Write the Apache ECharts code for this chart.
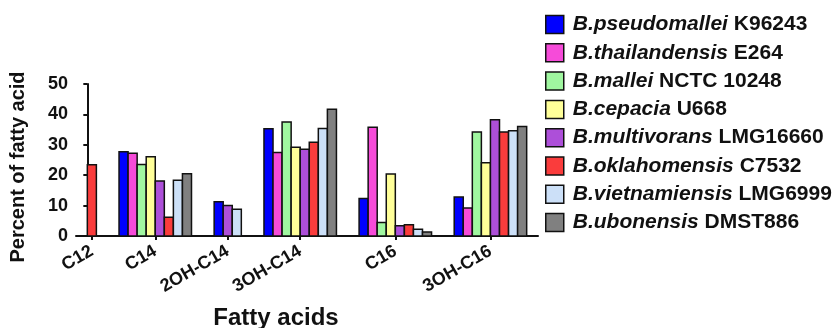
<!DOCTYPE html>
<html>
<head>
<meta charset="utf-8">
<script src="https://cdn.jsdelivr.net/npm/echarts@6/dist/echarts.min.js"></script>
<style>html,body{margin:0;padding:0;background:#fff}#c{width:839px;height:328px}</style>
</head>
<body>
<div id="c"></div>
<script>
// ---- data ----
const categories = ['C12', 'C14', '2OH-C14', '3OH-C14', 'C16', '3OH-C16'];
const species = ['B.pseudomallei', 'B.thailandensis', 'B.mallei', 'B.cepacia', 'B.multivorans', 'B.oklahomensis', 'B.vietnamiensis', 'B.ubonensis'];
const strains = ['K96243', 'E264', 'NCTC 10248', 'U668', 'LMG16660', 'C7532', 'LMG6999', 'DMST886'];
const colors = ['#0000ff', '#f64bd9', '#a0f7a0', '#ffff99', '#ad4fd9', '#fa3c3c', '#cce0f8', '#808080'];
// values per strain, in category order (null = not detected)
const pseudomallei  = [null, 27.7, 11.3, 35.3, 12.3, 12.8];
const thailandensis = [null, 27.2, null, 27.5, 35.8, 9.2];
const mallei        = [null, 23.5, null, 37.5, 4.4, 34.2];
const cepacia       = [null, 26.1, null, 29.2, 20.4, 24.1];
const multivorans   = [null, 18.1, 10.0, 28.5, 3.4, 38.2];
const oklahomensis  = [23.4, 6.2, null, 30.8, 3.7, 34.2];
const vietnamiensis = [null, 18.3, 8.8, 35.4, 2.2, 34.6];
const ubonensis     = [null, 20.5, null, 41.7, 1.3, 36.0];
const seriesValues = [pseudomallei, thailandensis, mallei, cepacia, multivorans, oklahomensis, vietnamiensis, ubonensis];
const yTicks = [0, 10, 20, 30, 40, 50];

// ---- layout (bars packed per group, like the original) ----
const GAP = 2.5;       // gap between groups in bar widths
const PAD = 1.25;      // padding at both ends in bar widths
const seriesData = seriesValues.map(() => []);
const groupCenters = [];
let cursor = 0;
categories.forEach((cat, ci) => {
  let k = 0;
  seriesValues.forEach((vals, si) => {
    if (vals[ci] != null) { seriesData[si].push([cursor + k + 0.5, vals[ci]]); k++; }
  });
  groupCenters.push(cursor + k / 2);
  cursor += k + GAP;
});
const xMax = cursor - GAP + PAD;

const FONT = '"Liberation Sans", Arial, sans-serif';
const chart = echarts.init(document.getElementById('c'), null, {renderer: 'canvas'});

const series = species.map((sp, si) => ({
  name: sp + ' ' + strains[si],
  type: 'custom',
  itemStyle: {color: colors[si], borderColor: '#111', borderWidth: 1.5},
  data: seriesData[si],
  renderItem: function (params, api) {
    const x = api.value(0), y = api.value(1);
    const p0 = api.coord([x - 0.5, y]);
    const p1 = api.coord([x + 0.5, 0]);
    return {
      type: 'rect',
      shape: {x: p0[0], y: p0[1], width: p1[0] - p0[0], height: p1[1] - p0[1]},
      style: {fill: colors[si], stroke: '#111', lineWidth: 1.5}
    };
  }
}));

chart.setOption({
  animation: false,
  backgroundColor: '#fff',
  grid: {left: 76, right: 301, top: 84, bottom: 92, containLabel: false},
  xAxis: {
    type: 'value', min: -PAD, max: xMax,
    splitLine: {show: false},
    axisLine: {show: true, onZero: false, lineStyle: {color: '#111', width: 2}},
    axisTick: {show: true, customValues: groupCenters, length: 4, lineStyle: {color: '#111', width: 2}},
    axisLabel: {
      customValues: groupCenters, rotate: 30, margin: 14,
      fontFamily: FONT, fontSize: 18, fontWeight: 'bold', color: '#111',
      formatter: function (v) {
        let best = 0;
        groupCenters.forEach((g, i) => { if (Math.abs(g - v) < Math.abs(groupCenters[best] - v)) best = i; });
        return categories[best];
      }
    }
  },
  yAxis: {
    type: 'value', min: yTicks[0], max: yTicks[yTicks.length - 1], interval: 10,
    splitLine: {show: false},
    axisLine: {show: true, lineStyle: {color: '#111', width: 2}},
    axisTick: {show: true, length: 4, lineStyle: {color: '#111', width: 2}},
    axisLabel: {margin: 8, fontFamily: FONT, fontSize: 18, fontWeight: 'bold', color: '#111'}
  },
  legend: {
    orient: 'vertical', left: 545, top: 14, padding: 0,
    itemWidth: 18, itemHeight: 18, itemGap: 7.3,
    icon: 'rect',
    itemStyle: {borderColor: '#111', borderWidth: 1.5},
    data: species.map((sp, i) => sp + ' ' + strains[i]),
    formatter: function (name) {
      const i = species.findIndex((sp, k) => name === sp + ' ' + strains[k]);
      return '{i|' + species[i] + '} {b|' + strains[i] + '}';
    },
    textStyle: {
      fontFamily: FONT, fontSize: 21, fontWeight: 'bold', color: '#111',
      rich: {
        i: {fontFamily: FONT, fontSize: 21, fontWeight: 'bold', fontStyle: 'italic', color: '#111', padding: [0, 0, 0, 4], lineHeight: 18},
        b: {fontFamily: FONT, fontSize: 21, fontWeight: 'bold', color: '#111', lineHeight: 18}
      }
    }
  },
  graphic: [
    {type: 'text', x: 18, y: 167, rotation: Math.PI / 2,
     style: {text: 'Percent of fatty acid', font: 'bold 20px ' + FONT, fill: '#111', align: 'center', verticalAlign: 'middle'}},
    {type: 'text', x: 276, y: 318,
     style: {text: 'Fatty acids', font: 'bold 24px ' + FONT, fill: '#111', align: 'center', verticalAlign: 'middle'}}
  ],
  series: series
});
</script>
</body>
</html>
